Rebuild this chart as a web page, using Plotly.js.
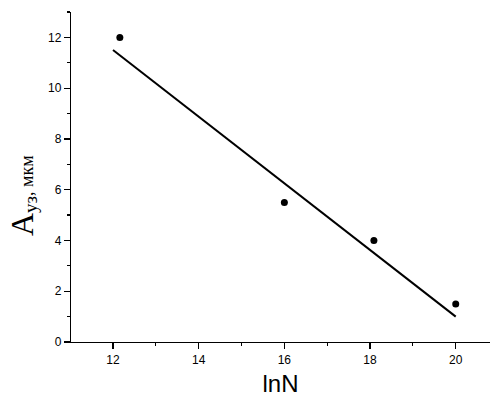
<!DOCTYPE html>
<html>
<head>
<meta charset="utf-8">
<script src="https://cdn.plot.ly/plotly-3.0.1.min.js"></script>
<style>html,body{margin:0;padding:0;background:#fff;}#chart{width:491px;height:398px;}</style>
</head>
<body>
<div id="chart"></div>
<script>
// Experimental points
const lnN = [12.16, 16.0, 18.09, 20.0];
const amplitude = [12.0, 5.5, 4.0, 1.5];
// Fitted line endpoints
const fitX = [12.0, 20.0];
const fitY = [11.5, 1.0];
const xTicks = [12, 14, 16, 18, 20];
const yTicks = [0, 2, 4, 6, 8, 10, 12];

const traces = [
  {x: fitX, y: fitY, mode: 'lines', type: 'scatter',
   line: {color: '#000', width: 2}, hoverinfo: 'skip'},
  {x: lnN, y: amplitude, mode: 'markers', type: 'scatter',
   marker: {color: '#000', size: 7}}
];

const sans = 'Liberation Sans, Arial, sans-serif';
const serif = 'Liberation Serif, Times New Roman, serif';

const layout = {
  width: 491, height: 398,
  margin: {l: 71, r: 1, t: 12, b: 56},
  showlegend: false,
  paper_bgcolor: '#fff', plot_bgcolor: '#fff',
  font: {family: sans, color: '#000', size: 12},
  xaxis: {
    range: [11.02, 20.8], showgrid: false, zeroline: false,
    showline: true, linecolor: '#000', linewidth: 1.2,
    tickmode: 'array', tickvals: xTicks, ticktext: xTicks.map(String),
    ticks: 'outside', ticklen: 6, tickwidth: 1.2, tickcolor: '#000',
    minor: {tickmode: 'array', tickvals: [13, 15, 17, 19], ticks: 'outside', ticklen: 3, tickwidth: 1.2, tickcolor: '#000'},
    tickfont: {size: 12, family: sans, color: '#000'},
    title: {text: 'lnN', font: {size: 24, family: sans, color: '#000'}, standoff: 9}
  },
  yaxis: {
    range: [0, 13], showgrid: false, zeroline: false,
    showline: true, linecolor: '#000', linewidth: 1.2,
    tickmode: 'array', tickvals: yTicks, ticktext: yTicks.map(String),
    ticks: 'outside', ticklen: 6, tickwidth: 1.2, tickcolor: '#000',
    minor: {tickmode: 'array', tickvals: [1, 3, 5, 7, 9, 11, 13], ticks: 'outside', ticklen: 3, tickwidth: 1.2, tickcolor: '#000'},
    tickfont: {size: 12, family: sans, color: '#000'}
  },
  annotations: [{
    xref: 'paper', yref: 'paper',
    x: -49 / 419, y: (342 - 196) / 330,
    xanchor: 'center', yanchor: 'middle',
    textangle: -90, showarrow: false,
    font: {family: serif, size: 18, color: '#000'},
    text: '<span style="font-size:32px">A</span><sub><span style="font-size:19px">уз</span></sub>, мкм'
  }]
};

Plotly.newPlot('chart', traces, layout, {staticPlot: true, displayModeBar: false});
</script>
</body>
</html>
